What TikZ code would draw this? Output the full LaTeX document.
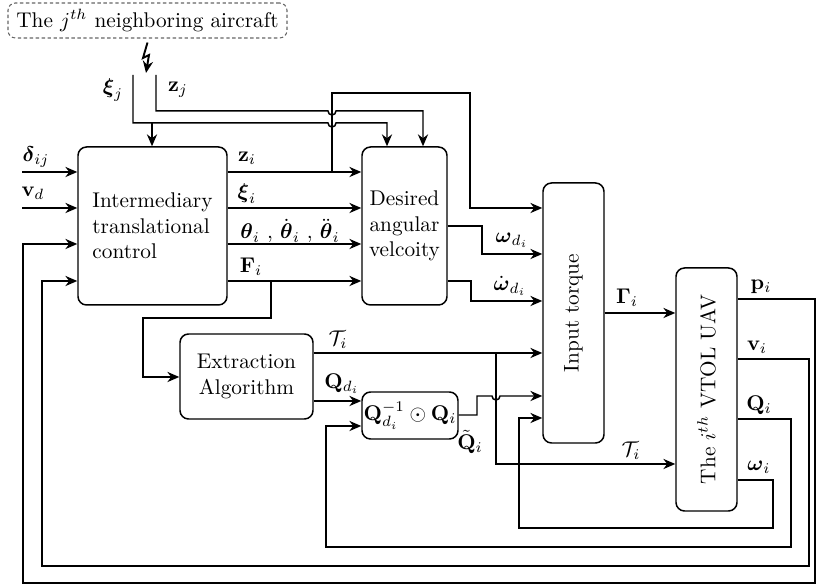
\documentclass[tikz,border=0pt]{standalone}
\usepackage{amsmath,amssymb}
\usetikzlibrary{arrows.meta,calc}
\def\pxu{0.47pt}
\begin{document}
\begin{tikzpicture}[x=0.47pt,y=-0.47pt,
  line width=0.7pt,
  arr/.style={-{Stealth[length=5.6pt,width=4.8pt]}},
  blk/.style={draw,rounded corners=4pt,align=center,inner sep=0pt},
  lbl/.style={inner sep=0pt}]
\useasboundingbox (0,0) rectangle (817,585);
% blocks
\node[blk,draw=black!60,dash pattern=on 1.6pt off 1.2pt,line width=0.5pt,rounded corners=3.5pt,minimum width=279*\pxu,minimum height=35*\pxu] (nb) at (147.5,20.5) {The $j^{th}$ neighboring aircraft};
\node[blk,align=left,minimum width=149*\pxu,minimum height=158*\pxu] (inter) at (152.5,226) {Intermediary\\translational\\control};
\node[blk,minimum width=85*\pxu,minimum height=158*\pxu] (des) at (404.5,226) {Desired\\angular\\velcoity};
\node[blk,minimum width=61*\pxu,minimum height=260*\pxu] (torque) at (573.5,313) {};
\node[rotate=90] (torquet) at (torque.center) {Input torque};
\node[blk,minimum width=61*\pxu,minimum height=243*\pxu] (uav) at (706.5,389.5) {};
\node[rotate=90] (uavt) at (uav.center) {The $i^{th}$ VTOL UAV};
\node[blk,minimum width=133*\pxu,minimum height=85*\pxu] (extr) at (246.5,376.5) {Extraction\\Algorithm};
\node[blk,minimum width=96*\pxu,minimum height=47*\pxu] (qbox) at (410,415.5) {$\mathbf{Q}_{d_i}^{-1}\odot\mathbf{Q}_i$};
% lightning
\draw[arr,line width=0.9pt] (nb.south) ++(0,4) -- (143,58) -- (149,55) -- (146,73);
% coordinates
\coordinate (din) at (22,172);
\coordinate (vin) at (22,208);
\coordinate (xj) at (133,75);
\coordinate (zj) at (156,75);
% inputs
\draw[arr] (din) -- (din -| inter.west);
\draw[arr] (vin) -- (vin -| inter.west);
% inter -> des
\draw[arr] (inter.east |- 0,172) -- (des.west |- 0,172);
\draw[arr] (inter.east |- 0,208) -- (des.west |- 0,208);
\draw[arr] (inter.east |- 0,244) -- (des.west |- 0,244);
\draw[arr] (inter.east |- 0,281) -- (des.west |- 0,281);
% z_i tap to torque
\draw[arr] (332,172) -- (332,93) -- (470,93) -- (470,208) -- (torque.west |- 0,208);
% xi_j
\draw[arr] (xj) -- (133,123) -- (328,123) arc[start angle=180,end angle=0,radius=4] -- (387,123) -- (387,0 |- des.north);
\draw[arr] (152,123) -- (152,0 |- inter.north);
% z_j
\draw[arr] (zj) -- (156,111) -- (328,111) arc[start angle=180,end angle=0,radius=4] -- (423,111) -- (423,0 |- des.north);
% des -> torque
\draw[arr] (des.east |- 0,226) -- (482,226) -- (482,254) -- (torque.west |- 0,254);
\draw[arr] (des.east |- 0,281) -- (471,281) -- (471,301) -- (torque.west |- 0,301);
% F_i -> extraction
\draw[arr] (271,281) -- (271,318) -- (143,318) -- (143,377) -- (extr.west |- 0,377);
% T_i
\draw[arr] (extr.east |- 0,353) -- (torque.west |- 0,353);
\draw[arr] (496,353) -- (496,464) -- (uav.west |- 0,464);
% Q_d
\draw[arr] (extr.east |- 0,401) -- (qbox.west |- 0,401);
% Q tilde
\draw[arr] (qbox.east |- 0,415) -- (477,415) -- (477,396) -- (492,396) arc[start angle=180,end angle=0,radius=4] -- (torque.west |- 0,396);
% Gamma
\draw[arr] (torque.east |- 0,313) -- (uav.west |- 0,313);
% feedbacks
\draw[arr] (uav.east |- 0,299) -- (815,299) -- (815,583) -- (23,583) -- (23,244) -- (inter.west |- 0,244);
\draw[arr] (uav.east |- 0,359) -- (809,359) -- (809,566) -- (42,566) -- (42,281) -- (inter.west |- 0,281);
\draw[arr] (uav.east |- 0,419) -- (791,419) -- (791,547) -- (326,547) -- (326,426) -- (qbox.west |- 0,426);
\draw[arr] (uav.east |- 0,480) -- (773,480) -- (773,528) -- (519,528) -- (519,418) -- (torque.west |- 0,418);
% labels
\node[lbl] (l1) at (36,157) {$\boldsymbol{\delta}_{ij}$};
\node[lbl] (l2) at (33,193) {$\mathbf{v}_d$};
\node[lbl] (l3) at (113,90) {$\boldsymbol{\xi}_j$};
\node[lbl] (l4) at (178,90) {$\mathbf{z}_j$};
\node[lbl] (l5) at (247,158) {$\mathbf{z}_i$};
\node[lbl] (l6) at (247,194) {$\boldsymbol{\xi}_i$};
\node[lbl] (l7) at (290,231) {$\boldsymbol{\theta}_i~,\,\dot{\boldsymbol{\theta}}_i~,\,\ddot{\boldsymbol{\theta}}_i$};
\node[lbl] (l8) at (251,267) {$\mathbf{F}_i$};
\node[lbl] (l9) at (512,240) {$\boldsymbol{\omega}_{d_i}$};
\node[lbl] (l10) at (510,286) {$\dot{\boldsymbol{\omega}}_{d_i}$};
\node[lbl] (l11) at (627,298) {$\boldsymbol{\Gamma}_i$};
\node[lbl] (l12) at (338,340) {$\mathcal{T}_i$};
\node[lbl] (l13) at (342,384) {$\mathbf{Q}_{d_i}$};
\node[lbl] (l14) at (470,442) {$\tilde{\mathbf{Q}}_i$};
\node[lbl] (l15) at (631,451) {$\mathcal{T}_i$};
\node[lbl] (l16) at (761,287) {$\mathbf{p}_i$};
\node[lbl] (l17) at (757,347) {$\mathbf{v}_i$};
\node[lbl] (l18) at (759,405) {$\mathbf{Q}_i$};
\node[lbl] (l19) at (759,467) {$\boldsymbol{\omega}_i$};
\end{tikzpicture}
\end{document}
